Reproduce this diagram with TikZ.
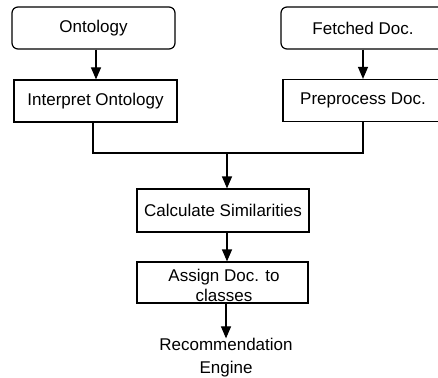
\documentclass[tikz,border=0pt]{standalone}
\usepackage{fontspec}
\setmainfont{Liberation Sans}
\usetikzlibrary{arrows.meta}
\begin{document}
\begin{tikzpicture}[x=1pt,y=-1pt,
  box/.style={draw,line width=1.2pt,rectangle,minimum height=42pt,inner sep=0pt,font=\fontsize{17}{19}\selectfont},
  rbox/.style={box,rounded corners=6pt},
  conn/.style={line width=1.2pt},
  arr/.style={conn,-{Triangle[length=12pt,width=10pt]}},
  every node/.style={text=black}]
\useasboundingbox (0,0) rectangle (438,377);
\node[rbox,minimum width=163pt] (ont) at (93.5,28) {Ontology};
\node[box,minimum width=163pt] (iont) at (95.5,101) {Interpret Ontology};
\node[rbox,minimum width=164pt] (fet) at (363,28) {Fetched Doc.};
\node[box,minimum width=160pt] (pre) at (363,100.5) {Preprocess Doc.};
\node[box,minimum width=172pt,minimum height=43pt] (calc) at (223,210.5) {Calculate Similarities};
\node[box,minimum width=171pt,minimum height=41pt] (asg) at (222.5,282.5) {};
\node[align=center,font=\fontsize{17}{20}\selectfont,inner sep=0pt] (asgt) at (224,285) {Assign Doc. to\\classes};
\node[align=center,font=\fontsize{17}{23}\selectfont,inner sep=0pt] (rec) at (226,358) {Recommendation\\Engine};
\coordinate (jl) at (93,153);
\coordinate (jr) at (363,153);
\coordinate (jm) at (227,153);
\draw[arr] (ont.south -| 96,0) -- (iont.north -| 96,0);
\draw[arr] (fet.south) -- (pre.north);
\draw[conn] (iont.south -| jl) -- (jl) -- (jr) -- (pre.south -| jr);
\draw[arr] (jm) -- (calc.north -| jm);
\draw[arr] (calc.south -| 227,0) -- (asg.north -| 227,0);
\draw[arr] (asg.south -| 226,0) -- (rec.north -| 226,0);
\end{tikzpicture}
\end{document}
